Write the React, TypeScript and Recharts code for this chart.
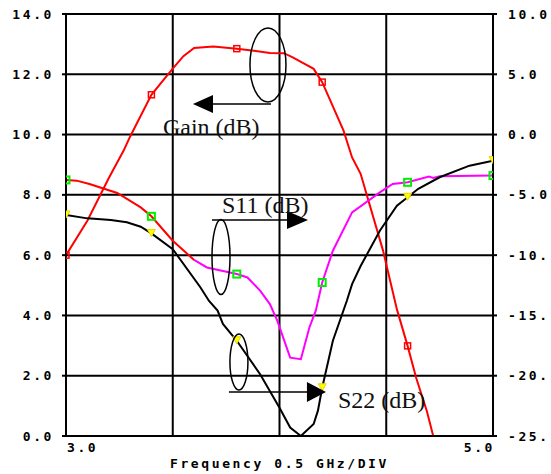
import { LineChart, Line, XAxis, YAxis, CartesianGrid, ReferenceDot } from "recharts";

// frequency in GHz, gain in dB (left axis)
const gainFreq = [3.0, 3.1, 3.2, 3.27, 3.3, 3.4, 3.455, 3.5, 3.55, 3.6, 3.69, 3.8, 3.955, 4.02, 4.06, 4.16, 4.2, 4.3, 4.34, 4.38, 4.485, 4.55, 4.6, 4.64, 4.69, 4.72];
const gainDb = [6.0, 7.14, 8.55, 9.47, 9.93, 11.32, 11.8, 12.19, 12.6, 12.87, 12.92, 12.85, 12.71, 12.7, 12.57, 12.18, 11.74, 10.13, 9.24, 8.7, 6.15, 4.2, 2.99, 1.93, 0.83, 0.0];

// S11 in dB (right axis)
const s11Freq = [3.0, 3.05, 3.11, 3.24, 3.35, 3.4, 3.5, 3.6, 3.66, 3.8, 3.85, 3.91, 3.955, 3.99, 4.05, 4.1, 4.14, 4.17, 4.2, 4.25, 4.34, 4.47, 4.53, 4.6, 4.7, 4.72, 4.75, 5.0];
const s11Db = [-3.76, -3.82, -4.1, -4.84, -6.04, -6.78, -8.8, -10.4, -11.02, -11.57, -11.85, -12.96, -14.06, -15.45, -18.5, -18.63, -16.0, -14.6, -12.27, -9.63, -6.45, -4.8, -4.1, -3.96, -3.49, -3.6, -3.45, -3.4];

// S22 in dB (right axis)
const s22Freq = [3.0, 3.1, 3.21, 3.285, 3.35, 3.4, 3.5, 3.63, 3.67, 3.71, 3.735, 3.8, 3.91, 4.0, 4.05, 4.1, 4.16, 4.18, 4.2, 4.25, 4.315, 4.34, 4.38, 4.47, 4.55, 4.6, 4.65, 4.75, 4.89, 5.0];
const s22Db = [-6.67, -6.95, -7.08, -7.28, -7.64, -8.2, -9.5, -12.68, -13.8, -14.6, -15.7, -17.1, -19.9, -22.65, -24.3, -25.0, -24.0, -22.9, -21.0, -17.1, -13.8, -12.4, -10.9, -7.97, -5.9, -5.2, -4.5, -3.54, -2.58, -2.16];

const markerFreqs = [3.0, 3.4, 3.8, 4.2, 4.6, 5.0];
const freqTicks = [3.0, 3.5, 4.0, 4.5, 5.0];
const leftTicks = [0, 2, 4, 6, 8, 10, 12, 14];
const rightTicks = [-25, -20, -15, -10, -5, 0, 5, 10];
const s11SplitFreq = 3.6; // trace is drawn red below this

const zip = (f: number[], v: number[]) => f.map((x, i) => ({ f: x, v: v[i] }));
const gainData = zip(gainFreq, gainDb);
const s11Data = zip(s11Freq, s11Db);
const s11Low = s11Data.filter((d) => d.f <= s11SplitFreq);
const s11High = s11Data.filter((d) => d.f >= s11SplitFreq);
const s22Data = zip(s22Freq, s22Db);

const MONO = "'DejaVu Sans Mono', monospace";
const SERIF = "'Liberation Serif', serif";
const axisText: any = { fontFamily: MONO, fontSize: 13, fontWeight: 700, letterSpacing: 2.6, fill: "#000" };

const isMarker = (f: number) => markerFreqs.some((m) => Math.abs(m - f) < 1e-6);

// instrument prints a fixed 4-character field
const fieldLabel = (v: number) => v.toFixed(1).slice(0, 4);

const squareDot = (color: string, size: number, sw: number) => (props: any) => {
  const { cx, cy, payload, index } = props;
  if (cx == null || !isMarker(payload.f)) return <g key={`n${index}`} />;
  return (
    <rect key={`m${index}`} x={cx - size / 2} y={cy - size / 2} width={size} height={size}
      fill="none" stroke={color} strokeWidth={sw} />
  );
};

const triangleDot = (props: any) => {
  const { cx, cy, payload, index } = props;
  if (cx == null || !isMarker(payload.f)) return <g key={`n${index}`} />;
  return (
    <polygon key={`t${index}`} points={`${cx - 4},${cy - 4} ${cx + 4},${cy - 4} ${cx},${cy + 3}`}
      fill="#ffff00" stroke="#e6d800" strokeWidth={1} />
  );
};

const LeftTick = (props: any) => {
  const { x, y, payload } = props;
  return (
    <text x={x + 2} y={y} textAnchor="end" dominantBaseline="central" style={axisText}>
      {payload.value.toFixed(1)}
    </text>
  );
};

const RightTick = (props: any) => {
  const { x, y, payload } = props;
  return (
    <text x={x} y={y} textAnchor="start" dominantBaseline="central" style={axisText}>
      {fieldLabel(payload.value)}
    </text>
  );
};

const FreqTick = (props: any) => {
  const { x, y, payload } = props;
  const v = payload.value;
  if (v !== 3 && v !== 5) return <g />;
  return (
    <text x={v === 3 ? x + 1 : x + 2} y={y + 3} textAnchor={v === 3 ? "start" : "end"}
      dominantBaseline="central" style={axisText}>
      {v.toFixed(1)}
    </text>
  );
};

const ink = { stroke: "#000", strokeWidth: 1.5, fill: "none" };
const serifText: any = { fontFamily: SERIF, fontSize: 24, fill: "#111" };

const GainCallout = ({ cx, cy }: any) => (
  <g transform={`translate(${cx},${cy})`}>
    <ellipse cx={0} cy={0} rx={18} ry={37} {...ink} />
    <line x1={3} y1={39} x2={-57} y2={39} {...ink} />
    <polygon points="-75,39 -55,30 -55,48" fill="#000" />
    <text x={-105} y={70} style={serifText}>Gain (dB)</text>
  </g>
);

const S11Callout = ({ cx, cy }: any) => (
  <g transform={`translate(${cx},${cy})`}>
    <ellipse cx={0} cy={0} rx={9} ry={37.5} {...ink} />
    <line x1={-9} y1={-37} x2={68} y2={-37} {...ink} />
    <polygon points="87,-37 66,-46 66,-28" fill="#000" />
    <text x={1} y={-44} style={serifText}>S11 (dB)</text>
  </g>
);

const S22Callout = ({ cx, cy }: any) => (
  <g transform={`translate(${cx},${cy})`}>
    <ellipse cx={0} cy={0} rx={9} ry={28} {...ink} />
    <line x1={-10} y1={30} x2={70} y2={30} {...ink} />
    <polygon points="87,30 68,20 68,40" fill="#000" />
    <text x={99} y={46} style={serifText}>S22 (dB)</text>
  </g>
);

export default function App() {
  return (
    <div style={{ position: "absolute", left: 0, top: 0, width: 551, height: 474, background: "#fff" }}>
      <LineChart width={551} height={474} margin={{ top: 14, right: 0, left: 10, bottom: 0 }}>
        <CartesianGrid yAxisId="l" stroke="#000" strokeWidth={2} fill="none" />
        <XAxis
          dataKey="f"
          type="number"
          domain={[3, 5]}
          ticks={freqTicks}
          allowDataOverflow
          height={38}
          axisLine={{ stroke: "#000", strokeWidth: 2 }}
          tickLine={false}
          tick={<FreqTick />}
          label={{ value: "Frequency 0.5 GHz/DIV", position: "insideBottom", offset: 6, style: axisText }}
        />
        <YAxis
          yAxisId="l"
          domain={[0, 14]}
          ticks={leftTicks}
          allowDataOverflow
          width={56}
          axisLine={{ stroke: "#000", strokeWidth: 2 }}
          tickLine={{ stroke: "#000", strokeWidth: 2 }}
          tickSize={4}
          tickMargin={10}
          tick={<LeftTick />}
        />
        <YAxis
          yAxisId="r"
          orientation="right"
          domain={[-25, 10]}
          ticks={rightTicks}
          allowDataOverflow
          width={58}
          axisLine={{ stroke: "#000", strokeWidth: 2 }}
          tickLine={{ stroke: "#000", strokeWidth: 2 }}
          tickSize={4}
          tickMargin={11}
          tick={<RightTick />}
        />
        <Line yAxisId="l" data={gainData} dataKey="v" type="linear" stroke="#ff0000" strokeWidth={2}
          dot={squareDot("#ff0000", 6, 1.5)} activeDot={false} isAnimationActive={false} />
        <Line yAxisId="r" data={s11Low} dataKey="v" type="linear" stroke="#ff0000" strokeWidth={2}
          dot={squareDot("#00ee00", 7, 2)} activeDot={false} isAnimationActive={false} />
        <Line yAxisId="r" data={s11High} dataKey="v" type="linear" stroke="#ff00ff" strokeWidth={2}
          dot={squareDot("#00ee00", 7, 2)} activeDot={false} isAnimationActive={false} />
        <Line yAxisId="r" data={s22Data} dataKey="v" type="linear" stroke="#000" strokeWidth={2}
          dot={triangleDot} activeDot={false} isAnimationActive={false} />
        <ReferenceDot yAxisId="l" x={3.946} y={12.31} ifOverflow="visible" shape={(p: any) => <GainCallout {...p} />} />
        <ReferenceDot yAxisId="l" x={3.726} y={5.94} ifOverflow="visible" shape={(p: any) => <S11Callout {...p} />} />
        <ReferenceDot yAxisId="l" x={3.81} y={2.455} ifOverflow="visible" shape={(p: any) => <S22Callout {...p} />} />
      </LineChart>
    </div>
  );
}
